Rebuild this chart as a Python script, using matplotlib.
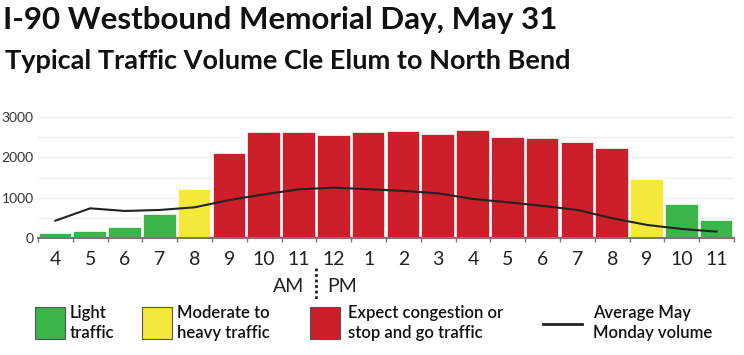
import numpy as np
import matplotlib.pyplot as plt

plt.rcParams['font.family'] = ['Lato', 'DejaVu Sans']

# 4 AM to 11 PM
hours = ['4', '5', '6', '7', '8', '9', '10', '11', '12', '1',
         '2', '3', '4', '5', '6', '7', '8', '9', '10', '11']
volume = [120, 190, 270, 600, 1220, 2100, 2620, 2620, 2560, 2620,
          2640, 2580, 2680, 2510, 2480, 2380, 2220, 1470, 855, 460]
# 0 = light, 1 = moderate/heavy, 2 = congestion
level = [0, 0, 0, 0, 1, 2, 2, 2, 2, 2,
         2, 2, 2, 2, 2, 2, 2, 1, 0, 0]
avg_may_monday = [435, 740, 675, 700, 765, 945, 1085, 1210, 1250, 1210,
                  1170, 1110, 970, 890, 800, 700, 495, 330, 230, 165]

colors = ['#3bb449', '#f4e93a', '#cd1f2a']
legend_labels = ['Light\ntraffic', 'Moderate to\nheavy traffic',
                 'Expect congestion or\nstop and go traffic']

fig = plt.figure(figsize=(7.44, 3.55), dpi=100)
ax = fig.add_axes([38 / 744, 0.3287, 696 / 744, 0.3538])

x = np.arange(len(hours))
ax.bar(x, volume, width=0.97, color=[colors[l] for l in level],
       edgecolor='white', linewidth=1.2, zorder=2)
ax.plot(x, avg_may_monday, color='#222222', lw=1.5, zorder=3)

ax.set_xlim(-0.5, len(hours) - 0.5)
ax.set_ylim(0, 3100)
ax.set_yticks([0, 1000, 2000, 3000])
ax.set_yticks(np.arange(0, 3001, 500), minor=True)
ax.grid(axis='y', which='both', color='#ececec', lw=1, zorder=0)
ax.tick_params(axis='y', which='both', length=0, labelsize=10,
               labelcolor='#333333', pad=3)

ax.set_xticks(x)
ax.set_xticklabels(hours, fontsize=14, color='#222222')
ax.set_xticks(np.arange(-0.5, len(hours), 1), minor=True)
ax.tick_params(axis='x', which='major', length=0, pad=9)
ax.tick_params(axis='x', which='minor', length=3, width=1, color='#777777')

for s in ['top', 'right', 'left']:
    ax.spines[s].set_visible(False)
ax.spines['bottom'].set_color('#777777')
ax.spines['bottom'].set_linewidth(1.5)
ax.spines['bottom'].set_zorder(4)

# AM | PM marker
fig.text(304 / 744, 1 - 286 / 355, 'AM', ha='right', va='center',
         fontsize=14, color='#222222')
fig.text(327 / 744, 1 - 286 / 355, 'PM', ha='left', va='center',
         fontsize=14, color='#222222')
fig.add_artist(plt.Line2D([316 / 744, 316 / 744], [1 - 268 / 355, 1 - 300 / 355],
                          color='#222222', lw=2, ls=(0, (1, 1))))

# titles
fig.text(3 / 744, 1 - 20 / 355, 'I-90 Westbound Memorial Day, May 31',
         fontsize=22.5, fontweight='bold', va='center', color='#111111')
fig.text(5 / 744, 1 - 61 / 355, 'Typical Traffic Volume Cle Elum to North Bend',
         fontsize=19.5, fontweight='bold', va='center', color='#111111')

# legend
box_x = [35, 142, 310]
text_x = [70, 177, 348]
for bx, tx, c, lab in zip(box_x, text_x, colors, legend_labels):
    fig.add_artist(plt.Rectangle((bx / 744, 1 - 339 / 355), 30 / 744, 32 / 355,
                                 facecolor=c, edgecolor='#555555', lw=0.8))
    fig.text(tx / 744, 1 - 323 / 355, lab, fontsize=12, fontweight='semibold',
             va='center', linespacing=1.3, color='#111111')
fig.add_artist(plt.Line2D([543 / 744, 582 / 744], [1 - 324 / 355, 1 - 324 / 355],
                          color='#222222', lw=2))
fig.text(593 / 744, 1 - 323 / 355, 'Average May\nMonday volume', fontsize=12,
         fontweight='semibold', va='center', linespacing=1.3, color='#111111')

fig.savefig('out.png', dpi=100)
